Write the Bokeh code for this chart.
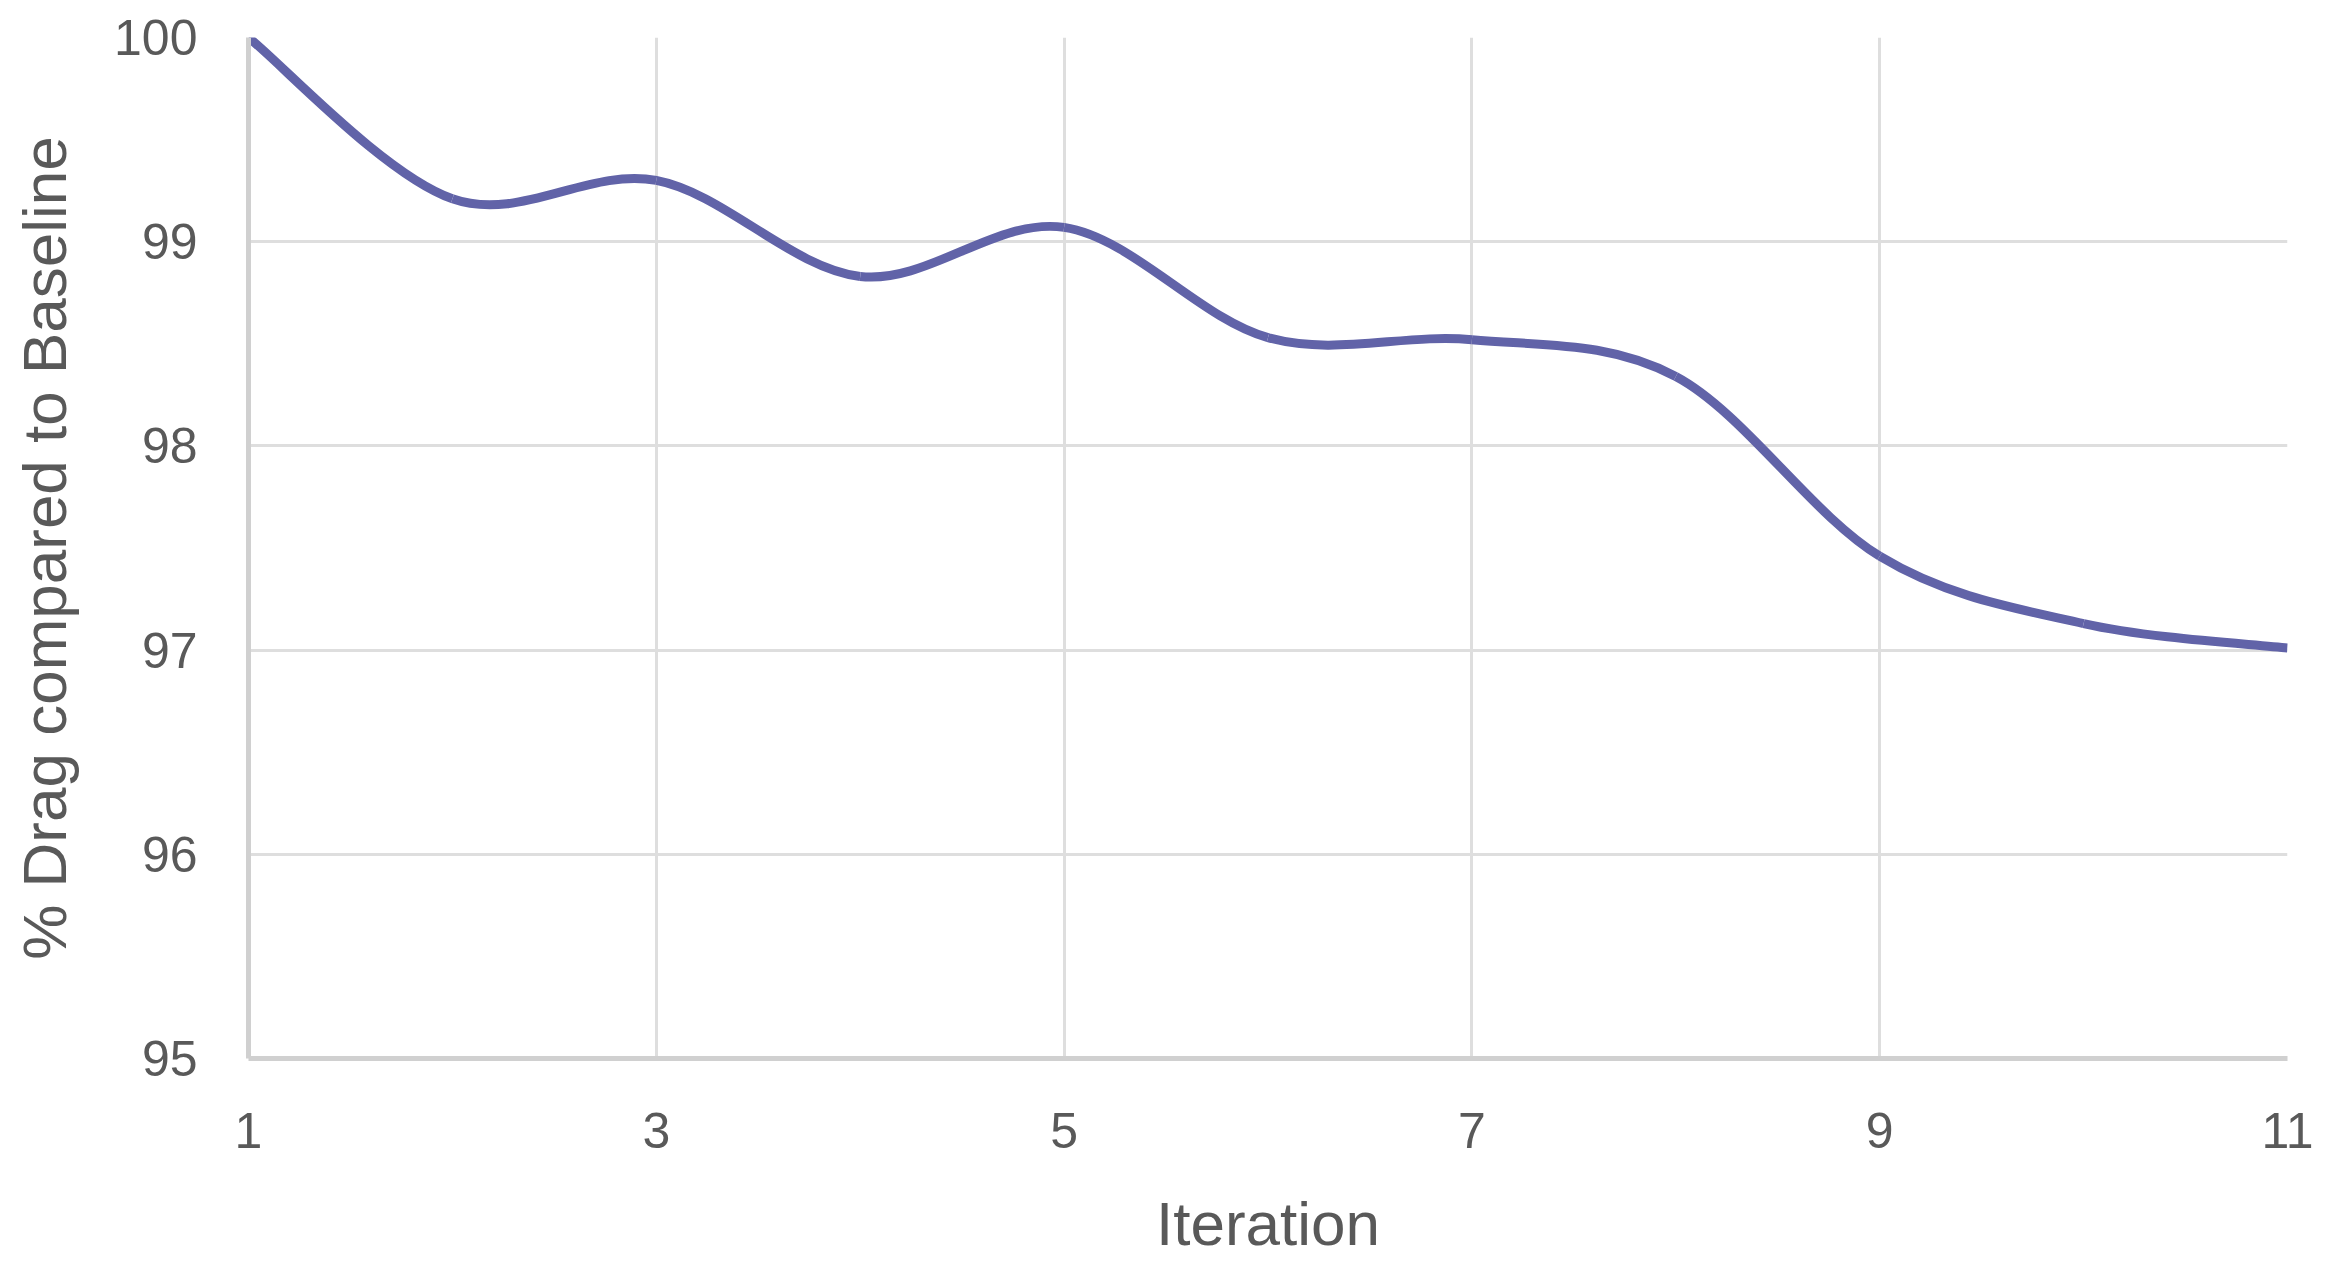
import numpy as np
from bokeh.plotting import figure
from bokeh.models import Range1d, FixedTicker
from bokeh.embed import file_html
from bokeh.resources import INLINE

# Data
iterations = [1, 2, 3, 4, 5, 6, 7, 8, 9, 10, 11]
drag_pct = [100.0, 99.21, 99.30, 98.83, 99.07, 98.53, 98.52, 98.34, 97.46, 97.13, 97.01]
x_ticks = [1, 3, 5, 7, 9, 11]
y_ticks = [95, 96, 97, 98, 99, 100]

# Excel-like smoothed line: cubic Bezier segments through the data points
xs = np.array(iterations, dtype=float)
ys = np.array(drag_pct, dtype=float)
n = len(xs)
x0, y0, x1, y1, cx0, cy0, cx1, cy1 = [], [], [], [], [], [], [], []
for i in range(n - 1):
    p_prev = (xs[max(i - 1, 0)], ys[max(i - 1, 0)])
    p0 = (xs[i], ys[i])
    p1 = (xs[i + 1], ys[i + 1])
    p_next = (xs[min(i + 2, n - 1)], ys[min(i + 2, n - 1)])
    x0.append(p0[0]); y0.append(p0[1])
    x1.append(p1[0]); y1.append(p1[1])
    cx0.append(p0[0] + (p1[0] - p_prev[0]) / 6.0)
    cy0.append(p0[1] + (p1[1] - p_prev[1]) / 6.0)
    cx1.append(p1[0] - (p_next[0] - p0[0]) / 6.0)
    cy1.append(p1[1] - (p_next[1] - p0[1]) / 6.0)

W, H = 2322, 1260
p = figure(width=W, height=H, output_backend="svg", toolbar_location=None,
           x_range=Range1d(1, 11), y_range=Range1d(95, 100),
           min_border_left=248, min_border_right=35, min_border_top=37, min_border_bottom=202)
p.outline_line_color = None
p.background_fill_color = "white"
p.border_fill_color = "white"

p.bezier(x0=x0, y0=y0, x1=x1, y1=y1, cx0=cx0, cy0=cy0, cx1=cx1, cy1=cy1,
         line_color="#6163a8", line_width=9)

for ax in (p.xaxis[0], p.yaxis[0]):
    ax.axis_line_color = "#d0d0d0"
    ax.axis_line_width = 5
    ax.major_tick_line_color = None
    ax.minor_tick_line_color = None
    ax.major_tick_out = 0
    ax.major_tick_in = 0
    ax.major_label_text_font = "Liberation Sans"
    ax.major_label_text_font_size = "50px"
    ax.major_label_text_color = "#595959"
    ax.axis_label_text_font = "Liberation Sans"
    ax.axis_label_text_font_size = "62px"
    ax.axis_label_text_font_style = "normal"
    ax.axis_label_text_color = "#595959"

p.xaxis.ticker = FixedTicker(ticks=x_ticks)
p.yaxis.ticker = FixedTicker(ticks=y_ticks)
p.xaxis.axis_label = "Iteration"
p.yaxis.axis_label = "% Drag compared to Baseline"
p.xaxis.major_label_standoff = 54
p.yaxis.major_label_standoff = 51
p.xaxis.axis_label_standoff = 38
p.yaxis.axis_label_standoff = 32

p.xgrid.ticker = FixedTicker(ticks=x_ticks)
p.ygrid.ticker = FixedTicker(ticks=y_ticks)
p.grid.grid_line_color = "#dedede"
p.grid.grid_line_width = 3

open("out.html", "w").write(file_html(p, INLINE))
